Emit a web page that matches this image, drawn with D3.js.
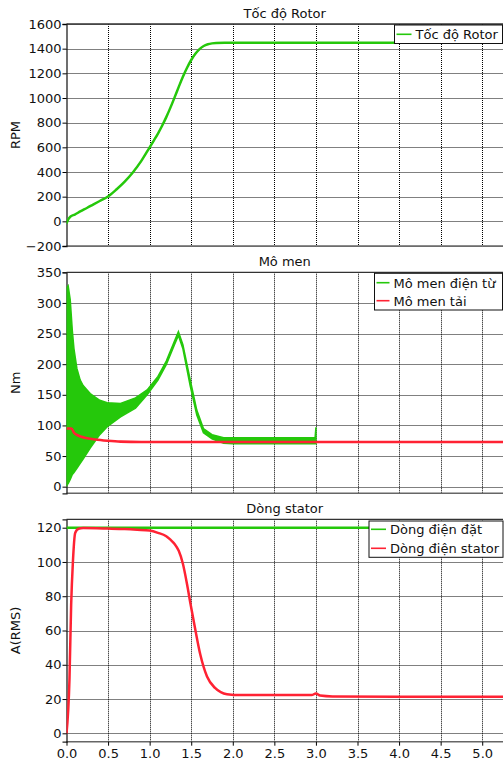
<!DOCTYPE html>
<html>
<head>
<meta charset="utf-8">
<script src="https://cdn.jsdelivr.net/npm/d3@7"></script>
<style>
  body { margin: 0; background: #fff; }
  svg { display: block; font-family: 'DejaVu Sans', Verdana, sans-serif; }
</style>
</head>
<body>
<svg id="graph"></svg>
<script>
// Tốc độ Rotor (RPM)
const rotorT = [0, 0.02, 0.05, 0.1, 0.165, 0.25, 0.325, 0.4, 0.49, 0.6, 0.7, 0.8, 0.9, 1.0, 1.05, 1.1, 1.15, 1.2, 1.25, 1.3, 1.35, 1.4, 1.45, 1.5, 1.55, 1.6, 1.65, 1.7, 1.75, 1.8, 1.9, 2.0, 3.0, 4.0, 5.25]
const rotorRpm = [-18, 15, 40, 55, 80, 110, 138, 165, 197, 258, 322, 398, 490, 600, 655, 712, 775, 845, 922, 1005, 1090, 1172, 1245, 1308, 1358, 1396, 1422, 1436, 1443, 1446, 1447, 1447, 1447, 1447, 1447]

// Mô men điện từ: dải dao động (bao trên / bao dưới)
const torqueT = [0, 0.005, 0.02, 0.045, 0.07, 0.09, 0.125, 0.165, 0.2, 0.285, 0.4, 0.49, 0.65, 0.83, 0.97, 1.1, 1.2, 1.3, 1.346, 1.4, 1.487, 1.567, 1.647, 1.75, 1.89, 2.0, 2.5, 2.99, 3.0]
const torqueUpper = [0, 325, 328, 305, 255, 225, 193, 174, 165, 152, 141, 137, 136, 145, 158, 180, 205, 238, 253, 232, 175, 125, 95, 85, 80, 80, 80, 80, 97]
const torqueLower = [0, 3, 5, 12, 20, 23, 30, 38, 45, 63, 85, 98, 114, 128, 150, 174, 199, 232, 247, 225, 165, 117, 88, 78, 71, 70, 70, 70, 70]

// Mô men tải
const loadT = [0, 0.06, 0.09, 0.14, 0.22, 0.35, 0.49, 0.65, 0.9, 1.5, 5.25]
const loadNm = [95, 95, 88, 83.6, 80, 77, 75, 73.5, 73, 73, 73]

// Dòng điện đặt / Dòng điện stator
const setT = [0, 5.25]
const setA = [120, 120]
const statorT = [0, 0.036, 0.056, 0.077, 0.105, 0.145, 0.2, 0.5, 0.7, 0.85, 1.0, 1.1, 1.2, 1.25, 1.3, 1.35, 1.4, 1.45, 1.49, 1.55, 1.61, 1.69, 1.79, 1.93, 2.1, 2.5, 2.95, 3.0, 3.05, 3.2, 4.0, 5.25]
const statorA = [0, 32, 75, 100, 117, 119.4, 119.8, 119.5, 119.2, 118.8, 118.3, 117, 115, 113, 110.5, 106.5, 99, 87, 75.9, 60.3, 45.8, 33.1, 26.3, 22.8, 22.3, 22.3, 22.3, 23.3, 22.0, 21.5, 21.4, 21.4]

// tick labels
const xTicks = [0, 0.5, 1, 1.5, 2, 2.5, 3, 3.5, 4, 4.5, 5]
const rpmTicks = [-200, 0, 200, 400, 600, 800, 1000, 1200, 1400, 1600]
const nmTicks = [0, 50, 100, 150, 200, 250, 300, 350]
const ampTicks = [0, 20, 40, 60, 80, 100, 120]

const GREEN = '#25c80b'
const RED = '#ff2233'

const width = 504
const height = 767
const svg = d3.select('#graph').attr('width', width).attr('height', height)

const left = 66.5
const right = 503
const xScale = d3.scaleLinear().domain([0, 5.25]).range([left, right])

const zip = (xs, ys) => xs.map((x, i) => ({ x, y: ys[i] }))

const drawPanel = (cfg) => {
  const { id, title, label, top, bottom, domain, ticks } = cfg
  const yScale = d3.scaleLinear().domain(domain).range([bottom, top])
  const g = svg.append('g').attr('id', id)

  // grid
  g.append('g')
    .selectAll('line')
    .data(ticks)
    .enter()
    .append('line')
    .attr('x1', left)
    .attr('x2', right)
    .attr('y1', (d) => Math.round(yScale(d)) + 0.5)
    .attr('y2', (d) => Math.round(yScale(d)) + 0.5)
    .attr('stroke', '#000')
    .attr('stroke-width', 1)
    .attr('stroke-dasharray', '1,1')
  g.append('g')
    .selectAll('line')
    .data(xTicks.slice(1))
    .enter()
    .append('line')
    .attr('x1', (d) => Math.round(xScale(d)) + 0.5)
    .attr('x2', (d) => Math.round(xScale(d)) + 0.5)
    .attr('y1', top)
    .attr('y2', bottom)
    .attr('stroke', '#000')
    .attr('stroke-width', 1)
    .attr('stroke-dasharray', '1,1')

  // borders
  g.append('line')
    .attr('x1', left).attr('x2', right)
    .attr('y1', top).attr('y2', top)
    .attr('stroke', '#333').attr('stroke-width', 1.3)
  g.append('line')
    .attr('x1', left).attr('x2', right)
    .attr('y1', bottom).attr('y2', bottom)
    .attr('stroke', '#666').attr('stroke-width', 1.6)

  // y axis
  const axisY = d3.axisLeft(yScale).tickValues(ticks).tickFormat(d3.format('d')).tickSize(4).tickPadding(1)
  const ay = g.append('g')
    .attr('transform', `translate(${left},0)`)
    .style('font', "13px 'DejaVu Sans', Verdana, sans-serif")
    .call(axisY)
  ay.select('.domain').attr('stroke', '#222').attr('stroke-width', 1.3)
  ay.selectAll('.tick text').attr('fill', '#111')

  // titles
  g.append('text')
    .attr('x', (left + right) / 2)
    .attr('y', top - 6)
    .attr('text-anchor', 'middle')
    .style('font-size', '13px')
    .attr('fill', '#111')
    .text(title)
  g.append('text')
    .attr('transform', `translate(20,${(top + bottom) / 2}) rotate(-90)`)
    .attr('text-anchor', 'middle')
    .style('font-size', '13px')
    .attr('fill', '#111')
    .text(label)

  // clip
  g.append('clipPath')
    .attr('id', id + 'Clip')
    .append('rect')
    .attr('x', left)
    .attr('y', top)
    .attr('width', right - left)
    .attr('height', bottom - top)

  const plot = g.append('g').attr('clip-path', `url(#${id}Clip)`)
  return { g, plot, yScale }
}

const drawLegend = (g, box, items) => {
  g.append('rect')
    .attr('x', box.x)
    .attr('y', box.y)
    .attr('width', box.w)
    .attr('height', box.h)
    .attr('fill', '#fff')
    .attr('stroke', '#111')
    .attr('stroke-width', 1)
  items.forEach((it, i) => {
    const y = box.y + box.first + i * box.step
    g.append('line')
      .attr('x1', box.x + 2)
      .attr('x2', box.x + 2 + box.sample)
      .attr('y1', y)
      .attr('y2', y)
      .attr('stroke', it.color)
      .attr('stroke-width', 1.6)
    g.append('text')
      .attr('x', box.x + box.sample + 6)
      .attr('y', y + 5)
      .style('font-size', '13px')
      .attr('fill', '#111')
      .text(it.label)
  })
}

const line = (yScale) =>
  d3.line()
    .x((d) => xScale(d.x))
    .y((d) => yScale(d.y))
    .curve(d3.curveMonotoneX)

// panel 1
const p1 = drawPanel({ id: 'rotor', title: 'Tốc độ Rotor', label: 'RPM', top: 24, bottom: 246, domain: [-200, 1600], ticks: rpmTicks })
p1.plot.append('path')
  .datum(zip(rotorT, rotorRpm))
  .attr('fill', 'none')
  .attr('stroke', GREEN)
  .attr('stroke-width', 2.5)
  .attr('d', line(p1.yScale))
drawLegend(p1.g, { x: 394.5, y: 25, w: 108, h: 18.5, first: 9.3, step: 0, sample: 15 }, [
  { label: 'Tốc độ Rotor', color: GREEN },
])

// panel 2
const p2 = drawPanel({ id: 'torque', title: 'Mô men', label: 'Nm', top: 272.3, bottom: 493.3, domain: [-10.8, 350], ticks: nmTicks })
const band = torqueT.map((t, i) => ({ x: t, hi: torqueUpper[i], lo: torqueLower[i] }))
p2.plot.append('path')
  .datum(band)
  .attr('fill', GREEN)
  .attr('stroke', GREEN)
  .attr('stroke-width', 1.5)
  .attr('d', d3.area()
    .x((d) => xScale(d.x))
    .y0((d) => p2.yScale(d.lo))
    .y1((d) => p2.yScale(d.hi)))
p2.plot.append('path')
  .datum(zip(loadT, loadNm))
  .attr('fill', 'none')
  .attr('stroke', RED)
  .attr('stroke-width', 2.6)
  .attr('d', line(p2.yScale))
drawLegend(p2.g, { x: 374.5, y: 273.3, w: 128, h: 36.7, first: 9.4, step: 18, sample: 13 }, [
  { label: 'Mô men điện từ', color: GREEN },
  { label: 'Mô men tải', color: RED },
])

// panel 3
const p3 = drawPanel({ id: 'stator', title: 'Dòng stator', label: 'A(RMS)', top: 519.3, bottom: 741.7, domain: [-4.9, 124.9], ticks: ampTicks })
p3.plot.append('path')
  .datum(zip(setT, setA))
  .attr('fill', 'none')
  .attr('stroke', GREEN)
  .attr('stroke-width', 2.5)
  .attr('d', line(p3.yScale))
p3.plot.append('path')
  .datum(zip(statorT, statorA))
  .attr('fill', 'none')
  .attr('stroke', RED)
  .attr('stroke-width', 2.5)
  .attr('d', line(p3.yScale))
drawLegend(p3.g, { x: 369, y: 521, w: 134, h: 36.3, first: 8.3, step: 19, sample: 15 }, [
  { label: 'Dòng điện đặt', color: GREEN },
  { label: 'Dòng điện stator', color: RED },
])

// x axis
const axisX = d3.axisBottom(xScale).tickValues(xTicks).tickFormat(d3.format('.1f')).tickSize(4).tickPadding(3)
const ax = svg.append('g')
  .attr('transform', 'translate(0,741.7)')
  .style('font', "13px 'DejaVu Sans', Verdana, sans-serif")
  .call(axisX)
ax.select('.domain').remove()
ax.selectAll('.tick text').attr('fill', '#111')
</script>
</body>
</html>
